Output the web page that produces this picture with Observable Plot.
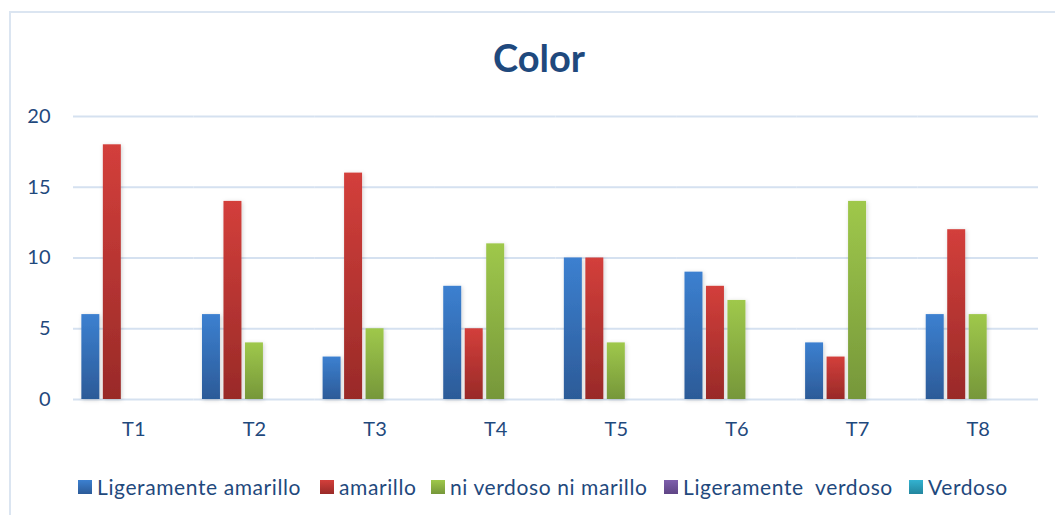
<!DOCTYPE html>
<html>
<head>
<meta charset="utf-8">
<script src="https://cdn.jsdelivr.net/npm/d3@7"></script>
<script src="https://cdn.jsdelivr.net/npm/@observablehq/plot@0.6"></script>
<style>
  html, body { margin: 0; padding: 0; background: #fff; }
  #wrap { position: relative; width: 1055px; height: 515px; overflow: hidden; font-family: Lato, "Open Sans", sans-serif; }
  #frame { position: absolute; left: 9px; top: 11px; width: 1100px; height: 600px; border-left: 2px solid #dbe5f1; border-top: 2px solid #dbe5f1; box-sizing: border-box; }
  #title { position: absolute; left: 0; width: 1078px; top: 38px; text-align: center; font-size: 38px; font-weight: 700; color: #1f497d; line-height: 1; }
  #chart { position: absolute; left: 0; top: 90px; }
  .leg { position: absolute; top: 474px; display: flex; align-items: center; font-size: 21px; letter-spacing: 0.6px; color: #1f497d; white-space: pre; }
  .sw { width: 14px; height: 14px; margin-right: 5px; }
</style>
</head>
<body>
<div id="wrap">
  <div id="frame"></div>
  <div id="title">Color</div>
  <div id="chart"></div>
  <div id="legend"></div>
</div>
<script>
const categories = ["T1", "T2", "T3", "T4", "T5", "T6", "T7", "T8"];
const series = ["Ligeramente amarillo", "amarillo", "ni verdoso ni marillo", "Ligeramente  verdoso", "Verdoso"];
const ligeramenteAmarillo = [6, 6, 3, 8, 10, 9, 4, 6];
const amarillo = [18, 14, 16, 5, 10, 8, 3, 12];
const niVerdosoNiMarillo = [0, 4, 5, 11, 4, 7, 14, 6];
const ligeramenteVerdoso = [0, 0, 0, 0, 0, 0, 0, 0];
const verdoso = [0, 0, 0, 0, 0, 0, 0, 0];
const yTicks = [0, 5, 10, 15, 20];

const seriesValues = [ligeramenteAmarillo, amarillo, niVerdosoNiMarillo, ligeramenteVerdoso, verdoso];
const gradients = [
  ["#3c80d0", "#2c5b98"],
  ["#d33f3b", "#992a28"],
  ["#9fc84b", "#76973a"],
  ["#7e5fac", "#5f4585"],
  ["#33b2d0", "#23869e"]
];
const legendX = [78, 320, 431, 664, 909];

const data = [];
categories.forEach((c, i) => {
  series.forEach((s, j) => {
    data.push({cat: c, series: s, value: seriesValues[j][i]});
  });
});

const chart = Plot.plot({
  width: 1055,
  height: 355,
  marginLeft: 73,
  marginRight: 17,
  marginTop: 26,
  marginBottom: 46,
  style: {fontFamily: "Lato, sans-serif", fontSize: "20px", color: "#1f497d", background: "transparent"},
  fx: {domain: categories, padding: 0, round: false, label: null, axis: "bottom", tickSize: 0, tickPadding: 22},
  x: {domain: series, paddingInner: 0.163, paddingOuter: 0.389, round: false, axis: null},
  y: {domain: [0, 20], ticks: yTicks, label: null, tickSize: 0, tickPadding: 23, grid: false},
  color: {domain: series, range: series.map((s, j) => `url(#grad${j})`)},
  marks: [
    Plot.ruleY(yTicks, {stroke: "#d5e1f0", strokeWidth: 2}),
    Plot.barY(data, {fx: "cat", x: "series", y: "value", fill: "series", filter: d => d.value > 0})
  ]
});

const svg = d3.select(chart);
const defs = svg.insert("defs", ":first-child");
gradients.forEach((g, j) => {
  const lg = defs.append("linearGradient").attr("id", `grad${j}`).attr("x1", 0).attr("y1", 0).attr("x2", 0).attr("y2", 1);
  lg.append("stop").attr("offset", "0%").attr("stop-color", g[0]);
  lg.append("stop").attr("offset", "100%").attr("stop-color", g[1]);
});
const f = defs.append("filter").attr("id", "shadow").attr("x", "-30%").attr("y", "-10%").attr("width", "160%").attr("height", "120%");
f.append("feDropShadow").attr("dx", 1).attr("dy", 1).attr("stdDeviation", 2).attr("flood-color", "#000").attr("flood-opacity", 0.18);
svg.selectAll("g[aria-label='bar'] rect").attr("style", "filter:url(#shadow)");

document.getElementById("chart").appendChild(chart);

const legend = document.getElementById("legend");
series.forEach((s, j) => {
  const item = document.createElement("div");
  item.className = "leg";
  item.style.left = legendX[j] + "px";
  const sw = document.createElement("div");
  sw.className = "sw";
  sw.style.background = `linear-gradient(${gradients[j][0]}, ${gradients[j][1]})`;
  const t = document.createElement("span");
  t.textContent = s;
  item.appendChild(sw);
  item.appendChild(t);
  legend.appendChild(item);
});
</script>
</body>
</html>
